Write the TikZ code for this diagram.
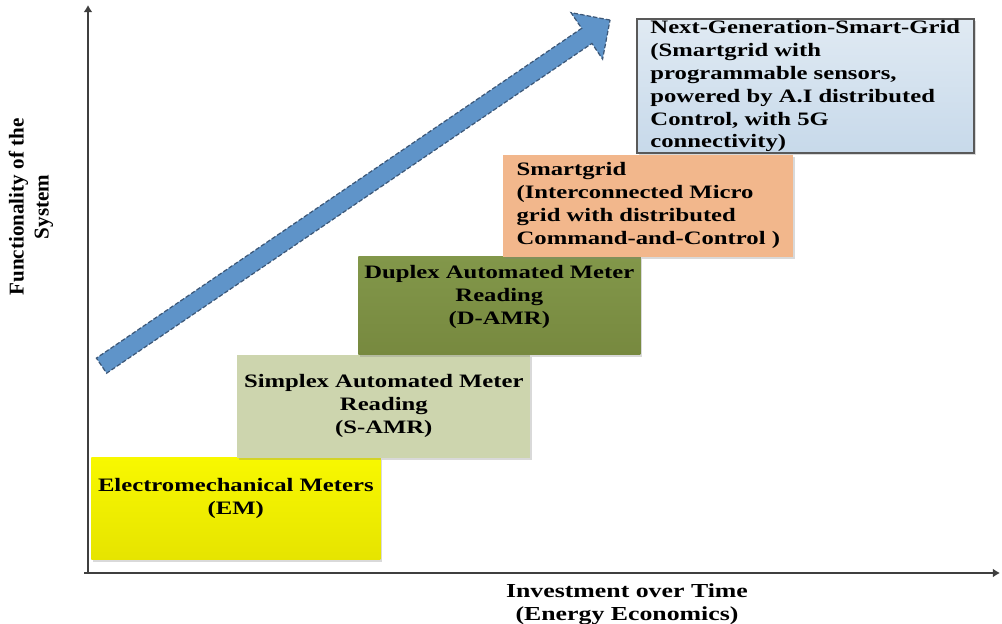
\documentclass[tikz,border=0pt]{standalone}
\usepackage{fontspec}
\setmainfont{Liberation Serif}
\newfontfamily\stagefont{Liberation Serif}[FakeStretch=1.3]
\usetikzlibrary{arrows.meta,shapes.arrows,shadows}

\definecolor{emyellow}{HTML}{F8F800}
\definecolor{emyellowdark}{HTML}{E6E400}
\definecolor{samrgreen}{HTML}{CDD5AE}
\definecolor{damrgreen}{HTML}{82974A}
\definecolor{damrdark}{HTML}{77893F}
\definecolor{sgpeach}{HTML}{F2B78C}
\definecolor{ngsgtop}{HTML}{E0EAF3}
\definecolor{ngsgbottom}{HTML}{C7D9EA}
\definecolor{arrowblue}{HTML}{5F94C9}
\definecolor{arrowedge}{HTML}{3D5878}
\definecolor{axisgray}{HTML}{3F3F3F}

\begin{document}
\begin{tikzpicture}[x=0.02cm, y=0.02cm,
    stage/.style={anchor=south west, inner sep=0pt,
      font=\stagefont\bfseries\fontsize{10.8}{13}\selectfont,
      drop shadow={shadow xshift=1.2pt, shadow yshift=-1.2pt, opacity=.3}},
    axis/.style={line width=1.7pt, draw=axisgray, -{Latex[length=4pt, width=5pt]}},
    growth/.style={single arrow, draw=arrowedge, fill=arrowblue,
      dash pattern=on 2.5pt off 1.2pt, line width=.7pt,
      inner xsep=0pt, inner ysep=.17cm, minimum width=0pt,
      single arrow head extend=.38cm, minimum height=12.3cm}]
  \useasboundingbox (0,0) rectangle (1002,623);
  %\draw[help lines, step=50] (0,0) grid (1002,623);

  % axes
  \coordinate (origin) at (88,50);
  \coordinate (xend) at (1000,50);
  \coordinate (yend) at (88,618);
  \draw[axis] (84,50) -- (xend);
  \draw[axis] (origin) -- (yend);

  \node[font=\bfseries\fontsize{12}{14.2}\selectfont, rotate=90, align=center] (ylab) at (31,416)
    {Functionality of the\\System};
  \node[font=\stagefont\bfseries\fontsize{11.3}{13}\selectfont, align=center] (xlab) at (627,19)
    {Investment over Time\\(Energy Economics)};

  % stages
  \node[stage, top color=emyellow, bottom color=emyellowdark, minimum width=5.78cm,
    minimum height=2.04cm, align=center, text depth=14pt] (em) at (91,63)
    {Electromechanical Meters\\(EM)};
  \node[stage, fill=samrgreen, minimum width=5.86cm, minimum height=2.06cm,
    align=center] (samr) at (237,165)
    {Simplex Automated Meter\\Reading\\(S-AMR)};
  \node[stage, top color=damrgreen, bottom color=damrdark, minimum width=5.64cm,
    minimum height=1.96cm, align=center, text depth=12pt] (damr) at (358,268)
    {Duplex Automated Meter\\Reading\\(D-AMR)};
  \node[stage, fill=sgpeach, minimum width=5.8cm, minimum height=2.04cm,
    align=left] (sg) at (503,366)
    {Smartgrid\\(Interconnected Micro\\grid with distributed\\Command-and-Control )};
  \node[stage, top color=ngsgtop, bottom color=ngsgbottom, draw=gray!70!black,
    line width=.9pt, minimum width=6.74cm, minimum height=2.68cm, align=left] (ngsg) at (636,469)
    {Next-Generation-Smart-Grid\\(Smartgrid with\\programmable sensors,\\powered by A.I distributed\\Control, with 5G\\connectivity)};

  % growth arrow
  \coordinate (start) at (101,257);
  \node[growth, anchor=tail, rotate=34.2] (trend) at (start) {};
\end{tikzpicture}
\end{document}
